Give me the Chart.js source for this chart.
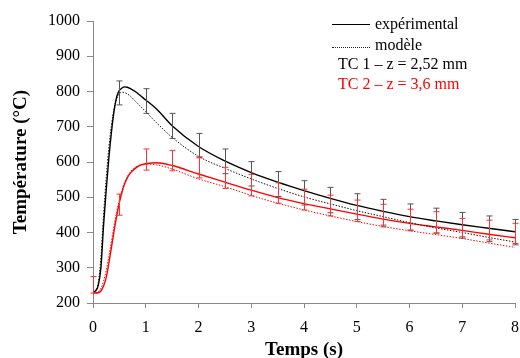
<!DOCTYPE html>
<html lang="fr">
<head>
<meta charset="UTF-8">
<title>Température TC1 / TC2</title>
<script src="https://cdn.jsdelivr.net/npm/chart.js"></script>
<style>
  body { margin: 0; background: #fff; }
  #wrap { position: relative; width: 520px; height: 358px; }
  .leg { position: absolute; font-family: "Liberation Serif", serif; font-size: 16px; line-height: 20px; white-space: nowrap; }
  .smp { position: absolute; width: 38px; height: 0; }
</style>
</head>
<body>
<div id="wrap">
  <canvas id="chart" width="520" height="358"></canvas>
  <div class="smp" style="left:332px; top:24px; border-top:1.3px solid #000;"></div>
  <div class="leg" style="left:375px; top:14px;">expérimental</div>
  <div class="smp" style="left:332px; top:47px; border-top:1px dotted #222;"></div>
  <div class="leg" style="left:375px; top:35px;">modèle</div>
  <div class="leg" style="left:338px; top:54px; color:#000;">TC 1 – z = 2,52 mm</div>
  <div class="leg" style="left:338px; top:74px; color:#f00;">TC 2 – z = 3,6 mm</div>
</div>
<script>
// temps (s)
const temps = [0, 0.05, 0.1, 0.15, 0.2, 0.25, 0.3, 0.35, 0.4, 0.45, 0.5, 0.55, 0.6, 0.65, 0.7, 0.8, 0.9, 1,
               1.2, 1.5, 2, 2.5, 3, 3.5, 4, 4.5, 5, 5.5, 6, 6.5, 7, 7.5, 8];

// TC 1 (z = 2,52 mm)
const tc1Exp = [232, 235, 250, 300, 420, 520, 610, 685, 745, 785, 803, 810, 813, 812, 809, 800, 788, 776,
                751, 703, 644, 603, 570, 543, 519, 497, 477, 460, 445, 433, 422, 412, 402];
const tc1Mod = [228, 232, 258, 330, 450, 555, 640, 705, 752, 780, 794, 798, 797, 793, 788, 773, 758, 743,
                712, 670, 616, 582, 552, 525, 501, 481, 462, 445, 428, 413, 400, 386, 373];

// TC 2 (z = 3,6 mm)
const tc2Exp = [232, 229, 229, 234, 248, 272, 312, 358, 405, 448, 485, 515, 538, 555, 567, 582, 591, 595,
                598, 590, 566, 543, 520, 499, 482, 467, 452, 438, 426, 416, 406, 395, 385];
const tc2Mod = [228, 227, 231, 242, 262, 292, 332, 376, 420, 458, 492, 520, 542, 558, 570, 585, 592, 594,
                592, 580, 552, 530, 505, 483, 464, 447, 431, 417, 405, 394, 383, 370, 358];

// barres d'erreur
const barT1 = [0.5, 1, 1.5, 2, 2.5, 3, 3.5, 4, 4.5, 5, 5.5, 6, 6.5, 7, 7.5, 8];
const tc1Bas = [762, 738, 667, 612, 567, 532, 502, 478, 456, 437, 421, 407, 398, 384, 374, 365];
const tc1Haut = [830, 808, 738, 681, 637, 601, 573, 547, 528, 510, 494, 481, 469, 457, 447, 437];

const barT2 = [0, 0.5, 1, 1.5, 2, 2.5, 3, 3.5, 4, 4.5, 5, 5.5, 6, 6.5, 7, 7.5, 8];
const tc2Bas = [228, 449, 577, 575, 555, 525, 504, 483, 464, 447, 431, 416, 405, 399, 388, 379, 369];
const tc2Haut = [275, 509, 637, 633, 615, 585, 565, 541, 523, 506, 492, 480, 466, 459, 440, 435, 426];

const toXY = vals => temps.map((t, i) => ({ x: t, y: vals[i] }));

const errorBars = {
    id: 'errorBars',
    afterDatasetsDraw(chart) {
        const ctx = chart.ctx;
        const xs = chart.scales.x, ys = chart.scales.y;
        function draw(ts, lo, hi, color) {
            ctx.save();
            ctx.strokeStyle = color;
            ctx.lineWidth = 1;
            ts.forEach((t, i) => {
                const x = Math.round(xs.getPixelForValue(t)) + 0.5;
                const y1 = ys.getPixelForValue(lo[i]);
                const y2 = ys.getPixelForValue(hi[i]);
                ctx.beginPath();
                ctx.moveTo(x, y1); ctx.lineTo(x, y2);
                ctx.moveTo(x - 3, y1); ctx.lineTo(x + 3, y1);
                ctx.moveTo(x - 3, y2); ctx.lineTo(x + 3, y2);
                ctx.stroke();
            });
            ctx.restore();
        }
        draw(barT1, tc1Bas, tc1Haut, '#555');
        draw(barT2, tc2Bas, tc2Haut, '#ff3030');
    }
};

const serif = '"Liberation Serif", "Times New Roman", serif';

new Chart(document.getElementById('chart'), {
    type: 'line',
    data: {
        datasets: [
            { label: 'TC1 expérimental', data: toXY(tc1Exp), borderColor: '#000', borderWidth: 1.4 },
            { label: 'TC1 modèle', data: toXY(tc1Mod), borderColor: '#111', borderWidth: 1, borderDash: [1.5, 1.5] },
            { label: 'TC2 expérimental', data: toXY(tc2Exp), borderColor: '#f00', borderWidth: 1.4 },
            { label: 'TC2 modèle', data: toXY(tc2Mod), borderColor: '#f00', borderWidth: 1, borderDash: [1.5, 1.5] }
        ]
    },
    options: {
        responsive: false,
        animation: false,
        devicePixelRatio: 1,
        layout: { padding: { top: 21, right: 5, left: 0, bottom: 0 } },
        elements: {
            point: { radius: 0 },
            line: { cubicInterpolationMode: 'monotone', fill: false }
        },
        plugins: { legend: { display: false }, tooltip: { enabled: false } },
        scales: {
            x: {
                type: 'linear', min: 0, max: 8,
                ticks: { stepSize: 1, color: '#000', padding: 10, maxRotation: 0, font: { family: serif, size: 16 } },
                grid: { drawOnChartArea: false, tickLength: 5, color: '#888' },
                border: { color: '#888', width: 1 },
                title: { display: true, text: 'Temps (s)', color: '#000', padding: 0,
                         font: { family: serif, size: 19, weight: 'bold', lineHeight: 0.85 } },
                afterFit(scale) {
                    scale.height = 55;
                    scale.paddingLeft = 0;
                    scale.paddingRight = 4;
                }
            },
            y: {
                min: 200, max: 1000,
                ticks: { stepSize: 100, color: '#000', padding: 7, font: { family: serif, size: 16 },
                         callback: v => String(v) },
                grid: { drawOnChartArea: false, tickLength: 6, color: '#888' },
                border: { color: '#888', width: 1 },
                title: { display: true, text: 'Température (°C)', color: '#000', padding: { top: 12, bottom: 0 },
                         font: { family: serif, size: 19, weight: 'bold', lineHeight: 1 } },
                afterFit(scale) { scale.width = 93; }
            }
        }
    },
    plugins: [errorBars]
});
</script>
</body>
</html>
